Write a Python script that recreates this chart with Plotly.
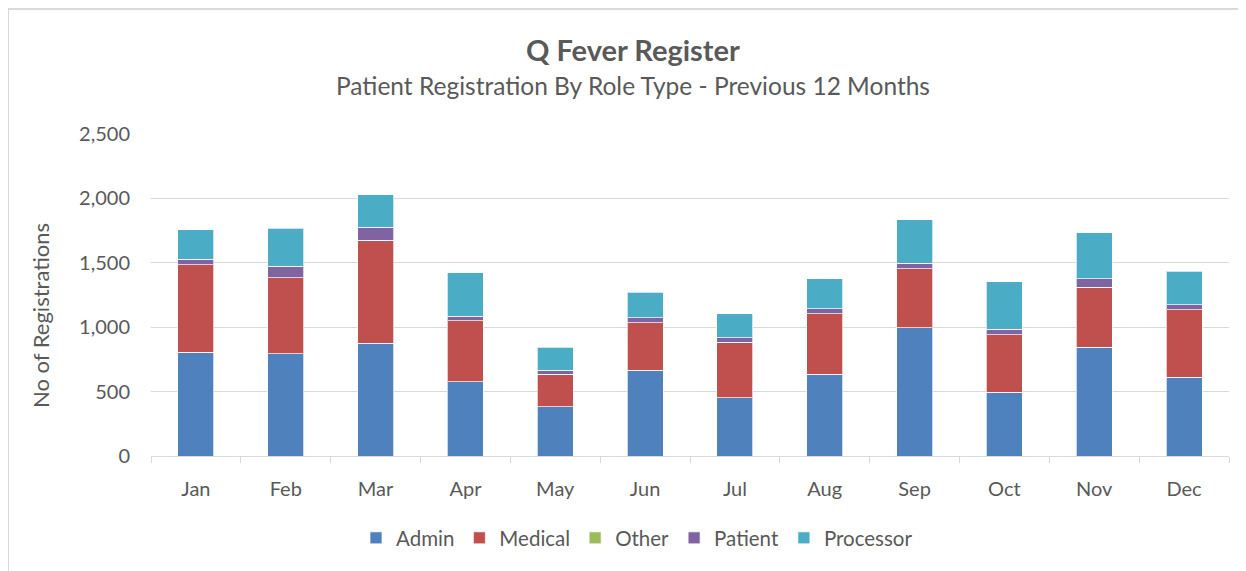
import plotly.graph_objects as go

months = ["Jan", "Feb", "Mar", "Apr", "May", "Jun", "Jul", "Aug", "Sep", "Oct", "Nov", "Dec"]
admin = [805, 795, 875, 575, 383, 664, 453, 633, 995, 495, 844, 612]
medical = [679, 590, 800, 477, 250, 370, 432, 471, 458, 448, 468, 523]
other = [0, 0, 0, 0, 0, 0, 0, 0, 0, 0, 0, 0]
patient = [42, 90, 102, 34, 31, 41, 32, 39, 42, 41, 63, 39]
processor = [229, 292, 250, 336, 180, 198, 187, 232, 341, 370, 359, 261]

series = [
    ("Admin", admin, "#4F81BD"),
    ("Medical", medical, "#C0504D"),
    ("Other", other, "#9BBB59"),
    ("Patient", patient, "#8064A2"),
    ("Processor", processor, "#4BACC6"),
]

FONT = "Lato, 'Open Sans', sans-serif"
GREY = "#595959"

fig = go.Figure()
for name, vals, col in series:
    fig.add_trace(go.Bar(
        name=name, x=months, y=vals,
        marker=dict(color=col, line=dict(color="rgba(255,255,255,0.7)", width=1)),
    ))

# page has an 8px body margin; figure coordinates are page coordinates minus 8
OFF = 8
W, H = 1246 - OFF, 571 - OFF
L, T = 151 - OFF, 134 - OFF
R = W - (1229 - OFF)
B = H - (456 - OFF)
pw = W - L - R
ph = H - T - B

def px_x(x):
    return (x - OFF - L) / pw

def px_y(y):
    return (H - B - (y - OFF)) / ph

fig.update_layout(
    width=W, height=H,
    barmode="stack", bargap=0.6,
    margin=dict(l=L, r=R, t=T, b=B, autoexpand=False),
    paper_bgcolor="white", plot_bgcolor="white",
    font=dict(family=FONT, color=GREY, size=16),
    showlegend=True,
    legend=dict(orientation="h", xref="paper", x=px_x(637), xanchor="center",
                y=px_y(538), yanchor="middle", font=dict(size=20.5, color=GREY),
                traceorder="normal"),
    xaxis=dict(showgrid=False, showline=True, linecolor="#D9D9D9", linewidth=1,
               ticks="outside", tickson="boundaries", ticklen=6, tickcolor="#D9D9D9",
               tickangle=0, automargin=False,
               tickfont=dict(size=20, color=GREY), ticklabelstandoff=15),
    yaxis=dict(range=[0, 2500], dtick=500, tickformat=",", showgrid=True,
               gridcolor="#D9D9D9", gridwidth=1, zeroline=False, showline=False,
               automargin=False,
               tickfont=dict(size=20, color=GREY), ticklabelstandoff=20),
    annotations=[
        dict(text="<b>Q Fever Register</b>", xref="paper", yref="paper",
             x=px_x(633), y=px_y(50), xanchor="center", yanchor="middle",
             showarrow=False, font=dict(size=29, color=GREY)),
        dict(text="Patient Registration By Role Type - Previous 12 Months", xref="paper", yref="paper",
             x=px_x(633), y=px_y(86), xanchor="center", yanchor="middle",
             showarrow=False, font=dict(size=24.5, color=GREY)),
        dict(text="No of Registrations", xref="paper", yref="paper",
             x=px_x(40), y=px_y(316), xanchor="center", yanchor="middle", textangle=-90,
             showarrow=False, font=dict(size=22, color=GREY)),
    ],
    shapes=[
        dict(type="line", xref="paper", yref="paper", x0=px_x(8), x1=px_x(1260),
             y0=px_y(9), y1=px_y(9), line=dict(color="#D9D9D9", width=2)),
        dict(type="line", xref="paper", yref="paper", x0=px_x(8), x1=px_x(8),
             y0=px_y(9), y1=px_y(600), line=dict(color="#D9D9D9", width=2)),
    ],
)

fig.write_html("out.html")
